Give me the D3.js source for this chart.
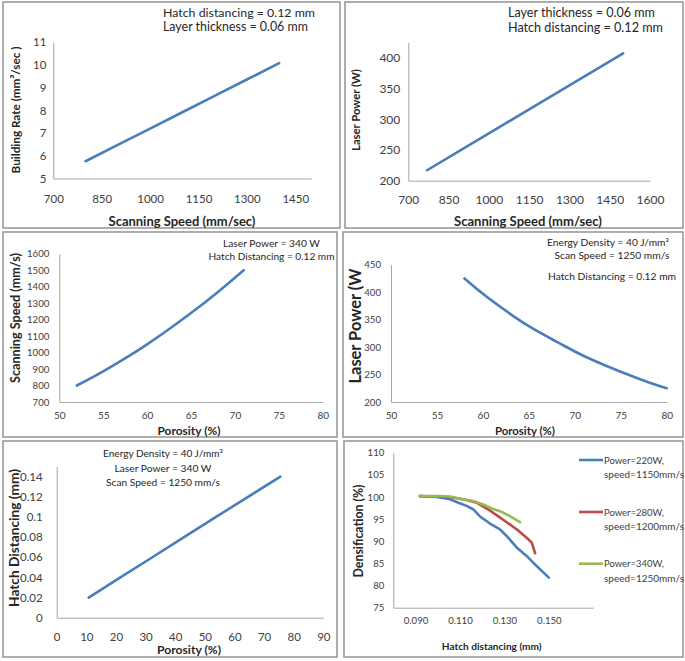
<!DOCTYPE html>
<html><head><meta charset="utf-8">
<script src="https://cdn.jsdelivr.net/npm/d3@7"></script>
<style>body{margin:0;background:#fff} svg{display:block}</style>
</head><body><svg id="c" width="685" height="661"></svg>
<script>
// ---------- DATA ----------
// Panel 1: Building rate vs scanning speed
const p1Speed = [800, 900, 1000, 1100, 1200, 1300, 1400];
const p1Rate = [5.76, 6.48, 7.2, 7.92, 8.64, 9.36, 10.08];
const p1XTicks = [700, 850, 1000, 1150, 1300, 1450];
const p1YTicks = [5, 6, 7, 8, 9, 10, 11];
const p1Notes = ["Hatch distancing = 0.12 mm", "Layer thickness = 0.06 mm"];
// Panel 2: Laser power vs scanning speed
const p2Speed = [770, 900, 1000, 1100, 1200, 1300, 1400, 1500];
const p2Power = [217, 251, 277, 303, 329, 355, 381, 407];
const p2XTicks = [700, 850, 1000, 1150, 1300, 1450, 1600];
const p2YTicks = [200, 250, 300, 350, 400];
const p2Notes = ["Layer thickness = 0.06 mm", "Hatch distancing = 0.12 mm"];
// Panel 3: Scanning speed vs porosity
const p3Porosity = [52, 55, 58, 60, 62, 65, 68, 71];
const p3Speed = [800, 886, 981, 1050, 1123, 1240, 1365, 1500];
const p3XTicks = [50, 55, 60, 65, 70, 75, 80];
const p3YTicks = [700, 800, 900, 1000, 1100, 1200, 1300, 1400, 1500, 1600];
const p3Notes = ["Laser Power = 340 W", "Hatch Distancing = 0.12 mm"];
// Panel 4: Laser power vs porosity
const p4Porosity = [58, 60, 62, 65, 68, 70, 72, 75, 78, 80];
const p4Power = [425, 397, 372, 338, 310, 292, 276, 255, 236, 225];
const p4XTicks = [50, 55, 60, 65, 70, 75, 80];
const p4YTicks = [200, 250, 300, 350, 400, 450];
const p4Notes = ["Energy Density = 40 J/mm³", "Scan Speed = 1250 mm/s", "Hatch Distancing = 0.12 mm"];
// Panel 5: Hatch distancing vs porosity
const p5Porosity = [10.8, 21.5, 32.3, 43.0, 53.8, 64.6, 75.5];
const p5Hatch = [0.02, 0.04, 0.06, 0.08, 0.10, 0.12, 0.14];
const p5XTicks = [0, 10, 20, 30, 40, 50, 60, 70, 80, 90];
const p5YTicks = [0, 0.02, 0.04, 0.06, 0.08, 0.1, 0.12, 0.14];
const p5Notes = ["Energy Density = 40 J/mm³", "Laser Power = 340 W", "Scan Speed = 1250 mm/s"];
// Panel 6: Densification vs hatch distancing
const p6Hatch220 = [0.092, 0.0995, 0.1055, 0.1093, 0.113, 0.116, 0.119, 0.1235, 0.128, 0.131, 0.1355, 0.140, 0.1445, 0.150];
const p6Dens220  = [100.2, 100.0, 99.5, 98.7, 98.0, 97.2, 95.6, 94.0, 92.7, 91.2, 88.6, 86.7, 84.4, 81.8];
const p6Hatch280 = [0.092, 0.1055, 0.113, 0.1175, 0.122, 0.1265, 0.131, 0.1355, 0.140, 0.1423, 0.1438];
const p6Dens280  = [100.2, 100.0, 99.3, 98.7, 97.4, 95.9, 94.3, 92.7, 90.8, 89.7, 87.3];
const p6Hatch340 = [0.092, 0.101, 0.1055, 0.110, 0.116, 0.1205, 0.1243, 0.128, 0.1325, 0.137];
const p6Dens340  = [100.2, 100.2, 100.1, 99.6, 99.1, 98.3, 97.4, 96.8, 95.7, 94.3];
const p6Names1 = ["Power=220W,", "Power=280W,", "Power=340W,"];
const p6Names2 = ["speed=1150mm/s", "speed=1200mm/s", "speed=1250mm/s"];
const p6XTicks = [0.09, 0.11, 0.13, 0.15];
const p6YTicks = [75, 80, 85, 90, 95, 100, 105, 110];

// ---------- DRAWING ----------
const FONT = "Lato, 'Open Sans', 'DejaVu Sans', sans-serif";
const svg = d3.select("#c");
const BLUE = "#4a7ebb", RED = "#be4b48", GREEN = "#98b954";
const AXIS = "#a6a6a6", TICKTXT = "#404040", TITLE = "#262626";

function fit(sel, w) {
  const len = sel.node().getComputedTextLength();
  const fs = parseFloat(sel.attr("font-size"));
  if (len > 0) sel.attr("font-size", (fs * w / len).toFixed(2));
  return sel;
}
function txt(x, y, s, opt) {
  const t = svg.append("text").attr("x", x).attr("y", y)
    .attr("font-family", FONT).attr("font-size", opt.size || 12)
    .attr("fill", opt.fill || TITLE)
    .attr("font-weight", opt.bold ? "bold" : "normal")
    .attr("text-anchor", opt.anchor || "middle")
    .attr("dominant-baseline", "central")
    .text(s);
  if (opt.rotate) t.attr("transform", `rotate(-90 ${x} ${y})`);
  if (opt.width) fit(t, opt.width);
  return t;
}
function frame(x0, y0, x1, y1) {
  svg.append("rect").attr("x", x0).attr("y", y0).attr("width", x1 - x0).attr("height", y1 - y0)
    .attr("fill", "none").attr("stroke", "#9a9a9a").attr("stroke-width", 1.6);
}
function axes(x, y, xTicks, yTicks, c) {
  const gx = svg.append("g").attr("transform", `translate(0,${y.range()[0]})`)
    .call(d3.axisBottom(x).tickValues(xTicks).tickSize(0).tickSizeOuter(0)
      .tickPadding(c.xPad).tickFormat(c.xFmt || (d => d)));
  const gy = svg.append("g").attr("transform", `translate(${x.range()[0]},0)`)
    .call(d3.axisLeft(y).tickValues(yTicks).tickSize(0).tickSizeOuter(0)
      .tickPadding(c.yPad).tickFormat(c.yFmt || (d => d)));
  [gx, gy].forEach((g, i) => {
    g.select(".domain").attr("stroke", AXIS).attr("stroke-width", 1);
    g.selectAll("text").attr("font-family", FONT).attr("fill", TICKTXT)
      .attr("font-size", i === 0 ? c.xSize : c.ySize);
  });
}
function line(x, y, xs, ys, color, curve) {
  svg.append("path").datum(xs.map((d, i) => [d, ys[i]]))
    .attr("fill", "none").attr("stroke", color).attr("stroke-width", 2.6)
    .attr("stroke-linejoin", "round").attr("stroke-linecap", "round")
    .attr("d", d3.line().x(d => x(d[0])).y(d => y(d[1])).curve(curve || d3.curveLinear));
}

// Panel 1
frame(3, 2, 340, 228);
{
  const x = d3.scaleLinear().domain([700, 1500]).range([53.3, 311.4]);
  const y = d3.scaleLinear().domain([5, 11]).range([178.5, 42.3]);
  axes(x, y, p1XTicks, p1YTicks, { xPad: 16, yPad: 7, xSize: 11.5, ySize: 11.5 });
  line(x, y, p1Speed, p1Rate, BLUE);
  txt(163, 12, p1Notes[0], { anchor: "start", size: 12, width: 152, fill: TITLE });
  txt(163, 26, p1Notes[1], { anchor: "start", size: 12, width: 145, fill: TITLE });
  txt(182, 221, "Scanning Speed (mm/sec)", { bold: true, size: 12, width: 147 });
  txt(15, 110, "Building Rate (mm³/sec )", { bold: true, size: 12, width: 127, rotate: true });
}
// Panel 2
frame(345, 2, 683, 228);
{
  const x = d3.scaleLinear().domain([700, 1600]).range([408.3, 650]);
  const y = d3.scaleLinear().domain([200, 425]).range([180.7, 42.3]);
  axes(x, y, p2XTicks, p2YTicks, { xPad: 15, yPad: 8, xSize: 12, ySize: 12 });
  line(x, y, p2Speed, p2Power, BLUE);
  txt(508, 12, p2Notes[0], { anchor: "start", size: 12, width: 147 });
  txt(508, 27, p2Notes[1], { anchor: "start", size: 12, width: 155 });
  txt(528, 221, "Scanning Speed (mm/sec)", { bold: true, size: 12, width: 148 });
  txt(355, 110, "Laser Power (W)", { bold: true, size: 12, width: 82, rotate: true });
}
// Panel 3
frame(3, 232, 337, 437);
{
  const x = d3.scaleLinear().domain([50, 80]).range([59.3, 322.7]);
  const y = d3.scaleLinear().domain([700, 1600]).range([402, 253.7]);
  axes(x, y, p3XTicks, p3YTicks, { xPad: 10, yPad: 10, xSize: 10, ySize: 9.6 });
  line(x, y, p3Porosity, p3Speed, BLUE, d3.curveNatural);
  txt(271.5, 243, p3Notes[0], { size: 10, width: 97 });
  txt(271.5, 256, p3Notes[1], { size: 10, width: 126 });
  txt(189, 430, "Porosity (%)", { bold: true, size: 12, width: 63 });
  txt(15, 318, "Scanning Speed (mm/s)", { bold: true, size: 12, width: 130, rotate: true });
}
// Panel 4
frame(343, 232, 683, 437);
{
  const x = d3.scaleLinear().domain([50, 80]).range([391, 666.7]);
  const y = d3.scaleLinear().domain([200, 450]).range([402, 264.7]);
  axes(x, y, p4XTicks, p4YTicks, { xPad: 10, yPad: 10, xSize: 10, ySize: 9.6 });
  line(x, y, p4Porosity, p4Power, BLUE, d3.curveNatural);
  txt(608, 242, p4Notes[0], { size: 10, width: 122 });
  txt(612, 255, p4Notes[1], { size: 10, width: 115 });
  txt(612, 275.7, p4Notes[2], { size: 10, width: 128 });
  txt(525, 430, "Porosity (%)", { bold: true, size: 12, width: 60 });
  txt(354, 326, "Laser Power (W", { bold: true, size: 12, width: 115, rotate: true });
}
// Panel 5
frame(3, 441, 337, 657);
{
  const x = d3.scaleLinear().domain([0, 90]).range([56.7, 323.3]);
  const y = d3.scaleLinear().domain([0, 0.15]).range([617.7, 466.6]);
  axes(x, y, p5XTicks, p5YTicks, { xPad: 15, yPad: 14, xSize: 11.5, ySize: 11.5,
    yFmt: d => String(+d.toFixed(2)) });
  line(x, y, p5Porosity, p5Hatch, BLUE);
  txt(163, 452.7, p5Notes[0], { size: 10, width: 120 });
  txt(163, 467.7, p5Notes[1], { size: 10, width: 97 });
  txt(163, 482, p5Notes[2], { size: 10, width: 114 });
  txt(189, 649, "Porosity (%)", { bold: true, size: 12, width: 64 });
  txt(13, 538, "Hatch Distancing (mm)", { bold: true, size: 12, width: 138, rotate: true });
}
// Panel 6
frame(344, 441, 683, 657);
{
  const x = d3.scaleLinear().domain([0.08, 0.17]).range([393.3, 593.3]);
  const y = d3.scaleLinear().domain([75, 110]).range([607.7, 452.7]);
  axes(x, y, p6XTicks, p6YTicks, { xPad: 9, yPad: 9, xSize: 9.6, ySize: 9.6,
    xFmt: d3.format(".3f") });
  const series = [[p6Hatch220, p6Dens220, BLUE], [p6Hatch280, p6Dens280, RED], [p6Hatch340, p6Dens340, GREEN]];
  series.forEach(s => line(x, y, s[0], s[1], s[2]));
  const legY = [460, 512, 563.7];
  series.forEach((s, i) => {
    svg.append("line").attr("x1", 579).attr("x2", 603).attr("y1", legY[i]).attr("y2", legY[i])
      .attr("stroke", s[2]).attr("stroke-width", 2.6);
    txt(604, legY[i], p6Names1[i], { anchor: "start", size: 10, width: 60, fill: TICKTXT });
    txt(604, legY[i] + 14.3, p6Names2[i], { anchor: "start", size: 10, width: 80, fill: TICKTXT });
  });
  txt(491.7, 646, "Hatch distancing (mm)", { bold: true, size: 11, width: 100 });
  txt(358, 531, "Densification (%)", { bold: true, size: 11, width: 93, rotate: true });
}
</script></body></html>
